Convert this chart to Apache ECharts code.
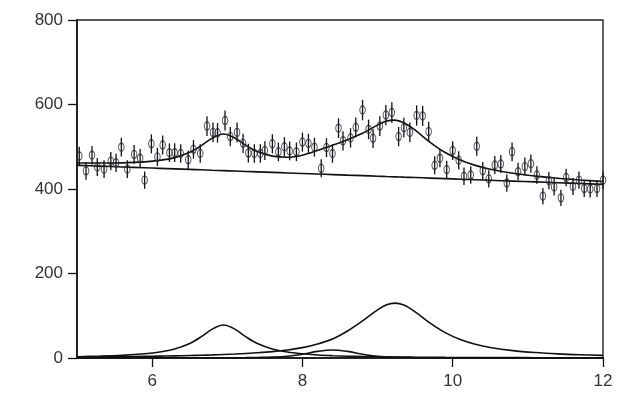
<!DOCTYPE html>
<html>
<head>
<meta charset="utf-8">
<script src="https://cdn.jsdelivr.net/npm/echarts@6/dist/echarts.min.js"></script>
<style>html,body{margin:0;padding:0;background:#fff;}#c{width:621px;height:396px;}</style>
</head>
<body>
<div id="c"></div>
<script>
// measured data points
var dataX = [5.03,5.12,5.20,5.27,5.36,5.45,5.52,5.59,5.67,5.76,5.84,5.90,5.99,6.07,6.14,6.23,6.30,6.38,6.48,6.55,6.64,6.73,6.81,6.87,6.97,7.04,7.13,7.21,7.28,7.36,7.44,7.50,7.60,7.68,7.76,7.83,7.92,8.00,8.08,8.16,8.25,8.32,8.40,8.48,8.54,8.64,8.71,8.80,8.88,8.94,9.03,9.11,9.19,9.28,9.35,9.43,9.52,9.60,9.68,9.76,9.83,9.92,10.00,10.08,10.15,10.24,10.32,10.40,10.48,10.56,10.64,10.72,10.79,10.87,10.96,11.04,11.12,11.20,11.28,11.35,11.44,11.51,11.60,11.68,11.75,11.83,11.92,12.00];
var dataY = [478,443,480,452,447,466,462,499,447,482,473,421,507,476,504,486,486,484,469,494,484,549,534,533,562,524,534,508,485,484,484,491,507,488,500,490,488,511,508,499,449,498,484,544,514,521,546,587,541,520,549,575,581,524,545,534,574,573,536,456,473,446,491,468,430,433,501,443,424,457,459,414,488,441,453,460,433,383,420,405,379,427,406,421,401,400,401,421];

// fit curves, on a common x grid
var fitX = [5.0,5.3,5.6,5.9,6.1,6.3,6.5,6.65,6.8,6.95,7.1,7.25,7.4,7.6,7.8,8.0,8.2,8.4,8.6,8.8,9.0,9.12,9.23,9.35,9.5,9.7,9.9,10.1,10.3,10.5,10.8,11.1,11.4,11.7,12.0];
var background = [456.0,454.1,452.1,450.2,448.9,447.6,446.4,445.4,444.4,443.5,442.5,441.5,440.6,439.3,438.0,436.7,435.4,434.1,432.8,431.6,430.3,429.5,428.8,428.0,427.1,425.8,424.5,423.2,421.9,420.6,418.7,416.8,414.8,412.9,411.0];
var peak1 = [3.1,4.3,6.3,9.9,14.1,21.4,34.4,49.9,68.4,78,68.4,49.9,34.4,21.4,14.1,9.9,7.2,5.5,4.3,3.5,2.9,2.6,2.3,2.1,1.9,1.6,1.4,1.3,1.1,1.0,0.9,0.7,0.6,0.5,0.5];
var peak2 = [2.5,2.9,3.4,4.0,4.5,5.1,5.9,6.5,7.3,8.3,9.4,10.7,12.3,15.1,19.0,24.5,33,45,64,87.8,114,126,130,125.3,109.3,82.5,60,43.8,32.7,25,17.5,12.9,9.8,7.7,6.2];
var peak3 = [0.1,0.1,0.1,0.1,0.2,0.2,0.2,0.3,0.4,0.5,0.6,0.8,1.2,2.0,4.0,9.0,15.6,19,15.6,9.0,4.0,2.6,1.8,1.3,0.9,0.6,0.4,0.3,0.2,0.2,0.1,0.1,0.1,0.1,0.1];

var xTicks = [6,8,10,12];

function pairs(xs, ys){ return xs.map(function(x,i){ return [x, ys[i]]; }); }
var total = fitX.map(function(x,i){ return [x, background[i]+peak1[i]+peak2[i]+peak3[i]]; });
var pts = dataX.map(function(x,i){ return [x, dataY[i], Math.sqrt(dataY[i])]; });

var chart = echarts.init(document.getElementById('c'), null, {renderer:'canvas'});
var lineStyle = {color:'#111', width:1.6};
var curve = function(d){ return {type:'line', data:d, showSymbol:false, smooth:0.35, lineStyle:lineStyle, silent:true, animation:false, z:3}; };
chart.setOption({
  animation:false,
  backgroundColor:'#fff',
  grid:{left:77, right:18, top:20, bottom:38, show:true, borderColor:'#222', borderWidth:1.4, backgroundColor:'transparent'},
  xAxis:{type:'value', min:5, max:12, interval:1,
    axisLine:{show:true, onZero:false, lineStyle:{color:'#111', width:1.5}},
    axisTick:{show:true, length:9, inside:false, customValues:xTicks, lineStyle:{color:'#111', width:1.3}},
    axisLabel:{customValues:xTicks, margin:15, fontSize:17, color:'#333', fontFamily:'Liberation Sans, Arial, sans-serif'},
    splitLine:{show:false}},
  yAxis:{type:'value', min:0, max:800, interval:200,
    axisLine:{show:true, lineStyle:{color:'#111', width:1.5}},
    axisTick:{show:true, length:9, inside:false, lineStyle:{color:'#111', width:1.3}},
    axisLabel:{margin:14, fontSize:17, color:'#333', fontFamily:'Liberation Sans, Arial, sans-serif'},
    splitLine:{show:false}},
  series:[
    curve(pairs(fitX, background)),
    curve(pairs(fitX, peak1)),
    curve(pairs(fitX, peak2)),
    curve(pairs(fitX, peak3)),
    curve(total),
    {type:'custom', data:pts, animation:false, z:4,
      renderItem:function(params, api){
        var x = api.value(0), y = api.value(1), e = api.value(2);
        var p1 = api.coord([x, y-e]), p2 = api.coord([x, y+e]);
        return {type:'line', shape:{x1:p1[0], y1:p1[1], x2:p2[0], y2:p2[1]}, style:{stroke:'#111', lineWidth:1.3}};
      }},
    {type:'scatter', data:pts.map(function(p){return [p[0],p[1]];}), symbol:'circle', symbolSize:[5.5,8], animation:false, z:5,
      itemStyle:{color:'transparent', borderColor:'#2a2a3a', borderWidth:1.2}}
  ]
});
</script>
</body>
</html>
